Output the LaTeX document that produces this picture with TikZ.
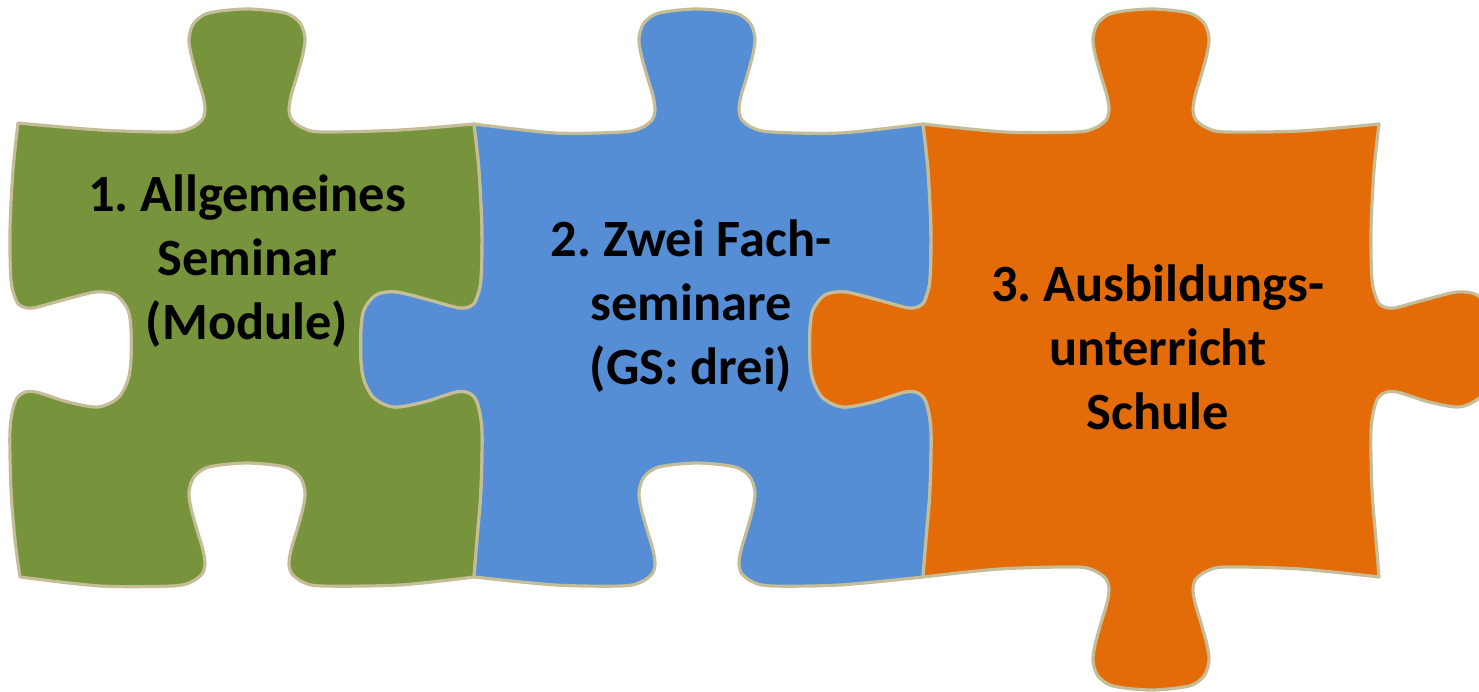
\documentclass[tikz,border=0pt]{standalone}
\usepackage{fontspec}
\setmainfont{Carlito}
\frenchspacing
\definecolor{pgreen}{HTML}{77933C}
\definecolor{pblue}{HTML}{558ED5}
\definecolor{porange}{HTML}{E36C09}
\definecolor{pedge}{HTML}{C4BD97}
\tikzset{
  piece/.style={draw=pedge, line width=0.9pt, line join=round},
  label/.style={anchor=base, align=center, text=black,
    font=\fontsize{14.9}{18.2}\selectfont\bfseries\frenchspacing, inner sep=0pt}
}
\begin{document}
\begin{tikzpicture}[x=0.01cm,y=-0.01cm]
\useasboundingbox (0,0) rectangle (1479,692);
% piece 1 (green)
\path[piece, fill=pgreen]
  plot[smooth] coordinates {(18,123) (100,130) (172,132) (191,128) (202,120) (205,110) (203,96) (197,76) (191,54) (189,38) (194,23) (209,13) (247,9) (285,13) (300,23) (305,38) (303,54) (297,76) (291,96) (289,110) (292,120) (303,128) (322,132) (400,130) (474,124)}
  --plot[smooth] coordinates {(474,124) (479,170) (482,230) (481,280) (476,300) (471,306) (459,308) (429,300) (396,292) (376,295) (364,310) (361,330) (361,360) (364,380) (374,398) (394,407) (424,402) (456,392) (469,393) (477,402) (482,430) (481,490) (477,540) (474,577)}
  --plot[smooth] coordinates {(474,577) (400,585) (322,586) (303,582) (292,574) (289,564) (291,550) (297,530) (303,508) (305,492) (300,477) (285,467) (247,463) (209,467) (194,477) (189,492) (191,508) (197,530) (203,550) (205,564) (202,574) (191,582) (172,586) (100,586) (20,577)}
  --plot[smooth] coordinates {(20,577) (15,540) (11,490) (10,430) (15,402) (23,393) (36,392) (68,402) (98,407) (118,398) (128,380) (131,360) (131,330) (128,310) (116,295) (96,292) (63,300) (33,308) (21,306) (16,300) (11,280) (10,230) (13,170) (18,123)}
  -- cycle;
% piece 2 (blue)
\path[piece, fill=pblue]
  plot[smooth] coordinates {(474,124) (555,133) (622,132) (641,128) (652,120) (655,110) (653,96) (647,76) (641,54) (639,38) (644,23) (659,13) (697,9) (735,13) (750,23) (755,38) (753,54) (747,76) (741,96) (739,110) (742,120) (753,128) (772,132) (840,133) (923,124)}
  --plot[smooth] coordinates {(923,124) (928,170) (931,230) (930,280) (925,300) (920,306) (908,308) (878,300) (845,292) (825,295) (813,310) (810,330) (810,360) (813,380) (823,398) (843,407) (873,402) (905,392) (918,393) (926,402) (931,430) (930,490) (926,540) (923,577)}
  --plot[smooth] coordinates {(923,577) (840,585) (772,586) (753,582) (742,574) (739,564) (741,550) (747,530) (753,508) (755,492) (750,477) (735,467) (697,463) (659,467) (644,477) (639,492) (641,508) (647,530) (653,550) (655,564) (652,574) (641,582) (622,586) (555,585) (474,577)}
  --plot[smooth] coordinates {(474,577) (477,540) (481,490) (482,430) (477,402) (469,393) (456,392) (424,402) (394,407) (374,398) (364,380) (361,360) (361,330) (364,310) (376,295) (396,292) (429,300) (459,308) (471,306) (476,300) (481,280) (482,230) (479,170) (474,124)}
  -- cycle;
% piece 3 (orange)
\path[piece, fill=porange]
  plot[smooth] coordinates {(923,124) (1005,132) (1076,132) (1095,128) (1106,120) (1109,110) (1107,96) (1101,76) (1095,54) (1093,38) (1098,23) (1113,13) (1151,9) (1189,13) (1204,23) (1209,38) (1207,54) (1201,76) (1195,96) (1193,110) (1196,120) (1207,128) (1226,132) (1300,131) (1379,124)}
  --plot[smooth] coordinates {(1379,124) (1374,170) (1371,230) (1372,280) (1377,300) (1382,306) (1394,308) (1424,300) (1457,292) (1477,295) (1489,310) (1492,330) (1492,360) (1489,380) (1479,398) (1459,407) (1429,402) (1397,392) (1384,393) (1376,402) (1371,430) (1372,490) (1376,540) (1379,577)}
  --plot[smooth] coordinates {(1379,577) (1300,569) (1226,567) (1207,571) (1196,579) (1193,589) (1195,603) (1201,623) (1207,645) (1209,661) (1204,676) (1189,686) (1151,690) (1113,686) (1098,676) (1093,661) (1095,645) (1101,623) (1107,603) (1109,589) (1106,579) (1095,571) (1076,567) (1000,569) (923,577)}
  --plot[smooth] coordinates {(923,577) (926,540) (930,490) (931,430) (926,402) (918,393) (905,392) (873,402) (843,407) (823,398) (813,380) (810,360) (810,330) (813,310) (825,295) (845,292) (878,300) (908,308) (920,306) (925,300) (930,280) (931,230) (928,170) (923,124)}
  -- cycle;
% labels (anchor = baseline of the last line)
\node[label] (t1) at (247,340) {1. Allgemeines\\Seminar\\(Module)};
\node[label] (t2) at (691,385) {2. Zwei Fach-\\seminare\\(GS: drei)};
\node[label] (t3) at (1158,430) {3. Ausbildungs-\\unterricht\\Schule};
\end{tikzpicture}
\end{document}
